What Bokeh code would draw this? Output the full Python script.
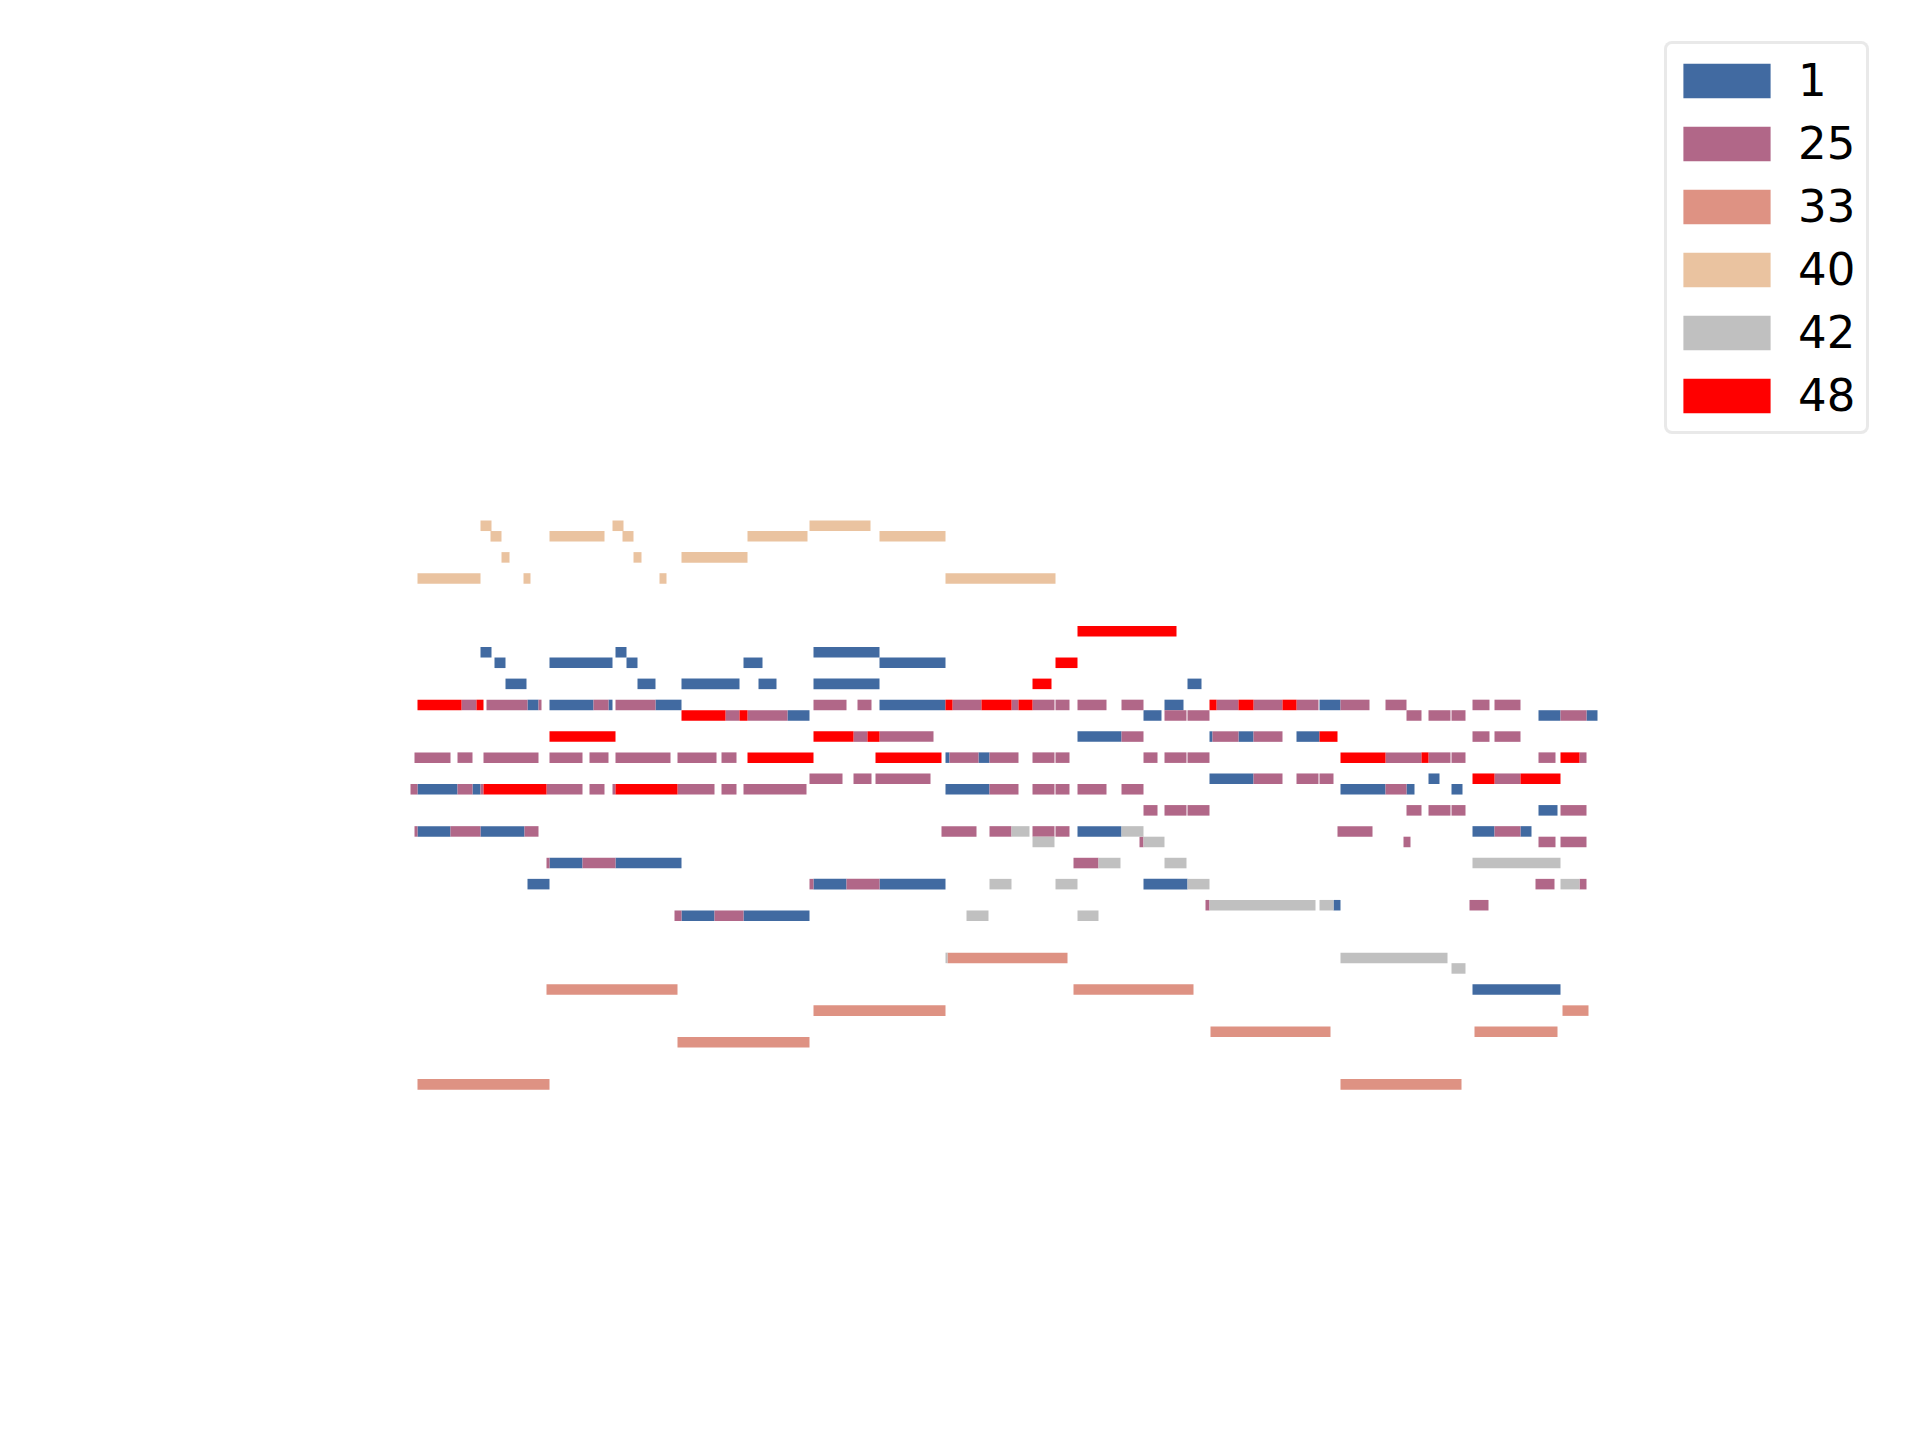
from bokeh.plotting import figure
from bokeh.models import ColumnDataSource, Legend, LegendItem, Range1d
from bokeh.embed import file_html
from bokeh.resources import INLINE

# Instrument programs (legend labels) and their colours
PROGRAMS = ["1", "25", "33", "40", "42", "48"]
COLORS = ["#416aa1", "#b16788", "#de9283", "#eac3a0", "#c0c0c0", "#ff0000"]

# Notes per program: pitch -> list of (start, end) in time units
NOTES_1 = {
    68: [(7.0, 8.1), (20.5, 21.6), (40.3, 46.9)],
    67: [(8.4, 9.5), (13.9, 20.2), (21.6, 22.7), (33.3, 35.2), (46.9, 53.5)],
    65: [(9.5, 11.6), (22.7, 24.5), (27.1, 32.9), (34.8, 36.6), (40.3, 46.9), (77.7, 79.1)],
    63: [(11.7, 12.8), (13.9, 18.3), (19.8, 20.2), (24.5, 27.1), (46.9, 53.5), (75.4, 77.3), (90.9, 93.0)],
    62: [(37.7, 39.9), (73.3, 75.1), (112.8, 115.0), (117.6, 118.7)],
    60: [(66.7, 71.1), (79.9, 80.2), (82.8, 84.3), (88.6, 90.9)],
    58: [(53.5, 53.9), (56.8, 57.9)],
    56: [(79.9, 84.3), (101.8, 102.9)],
    55: [(0.7, 4.7), (6.2, 7.0), (53.5, 57.9), (93.0, 97.5), (99.6, 100.4), (104.1, 105.2)],
    53: [(112.8, 114.7)],
    51: [(0.7, 4.0), (7.0, 11.4), (66.7, 71.1), (106.2, 108.4), (111.0, 112.1)],
    48: [(13.9, 17.2), (20.5, 27.1)],
    46: [(11.7, 13.9), (40.3, 43.6), (46.9, 53.5), (73.3, 77.7)],
    44: [(92.3, 93.0)],
    43: [(27.1, 30.4), (33.3, 39.9)],
    36: [(106.2, 115.0)],
}

NOTES_25 = {
    63: [(5.1, 6.6), (7.6, 11.7), (12.8, 13.1), (18.3, 19.8), (20.5, 24.5), (40.3, 43.6), (44.7, 46.1),
         (54.2, 57.1), (60.1, 60.8), (62.2, 64.4), (64.5, 65.9), (66.7, 69.6), (71.1, 73.3), (80.6, 82.8),
         (84.3, 87.2), (88.6, 90.8), (93.0, 95.9), (97.5, 99.6), (106.2, 107.9), (108.4, 111.0)],
    62: [(31.5, 32.9), (33.7, 37.7), (75.4, 77.6), (77.7, 79.9), (99.6, 101.1), (101.8, 104.0),
         (104.1, 105.5), (115.0, 117.6)],
    60: [(44.3, 45.7), (46.9, 52.3), (71.1, 73.3), (80.2, 82.8), (84.3, 87.2), (106.2, 107.9), (108.4, 111.0)],
    58: [(0.4, 4.0), (4.7, 6.2), (7.3, 12.8), (13.9, 17.2), (17.9, 19.8), (20.5, 26.0), (26.7, 30.6),
         (31.1, 32.6), (53.9, 56.8), (57.9, 60.8), (62.2, 64.4), (64.5, 65.9), (73.3, 74.7), (75.4, 77.6),
         (77.7, 79.9), (97.5, 101.1), (101.8, 104.0), (104.1, 105.5), (112.8, 114.5), (116.9, 117.6)],
    56: [(39.9, 43.2), (44.3, 46.1), (46.5, 52.0), (84.3, 87.2), (88.6, 90.8), (90.9, 92.3), (108.4, 111.0)],
    55: [(0.0, 0.7), (4.7, 6.2), (7.0, 7.3), (13.6, 17.2), (17.9, 19.4), (20.2, 20.5), (26.7, 30.4),
         (31.1, 32.6), (33.3, 39.6), (57.9, 60.8), (62.2, 64.4), (64.5, 65.9), (66.7, 69.6), (71.1, 73.3),
         (97.5, 99.6)],
    53: [(73.3, 74.7), (75.4, 77.6), (77.7, 79.9), (99.6, 101.1), (101.8, 104.0), (104.1, 105.5), (115.0, 117.6)],
    51: [(0.4, 0.7), (4.0, 7.0), (11.4, 12.8), (53.1, 56.6), (57.9, 60.1), (62.2, 64.4), (64.5, 65.9),
         (92.7, 96.2), (108.4, 111.0)],
    50: [(72.9, 73.3), (99.3, 100.0), (112.8, 114.5), (115.0, 117.6)],
    48: [(13.6, 13.9), (17.2, 20.5), (66.3, 68.8)],
    46: [(39.9, 40.3), (43.6, 46.9), (112.5, 114.4), (116.9, 117.6)],
    44: [(79.5, 79.9), (105.9, 107.8)],
    43: [(26.4, 27.1), (30.4, 33.3)],
}

NOTES_33 = {
    39: [(53.7, 65.7)],
    36: [(13.6, 26.7), (66.3, 78.3)],
    34: [(40.3, 53.5), (115.2, 117.8)],
    32: [(80.0, 92.0), (106.4, 114.7)],
    31: [(26.7, 39.9)],
    27: [(0.7, 13.9), (93.0, 105.1)],
}

NOTES_40 = {
    80: [(7.0, 8.1), (20.2, 21.3), (39.9, 46.0)],
    79: [(8.0, 9.1), (13.9, 19.4), (21.2, 22.3), (33.7, 39.7), (46.9, 53.5)],
    77: [(9.1, 9.9), (22.3, 23.1), (27.1, 33.7)],
    75: [(0.7, 7.0), (11.3, 12.0), (24.9, 25.6), (53.5, 64.5)],
}

NOTES_42 = {
    51: [(60.1, 61.9), (71.1, 73.3)],
    50: [(62.2, 64.4), (73.3, 75.4)],
    48: [(68.8, 71.0), (75.4, 77.6), (106.2, 115.0)],
    46: [(57.9, 60.1), (64.5, 66.7), (77.7, 79.9), (115.0, 116.9)],
    44: [(79.9, 90.5), (90.9, 92.3)],
    43: [(55.6, 57.8), (66.7, 68.8)],
    39: [(53.5, 53.7), (93.0, 103.7)],
    38: [(104.1, 105.5)],
}

NOTES_48 = {
    70: [(66.7, 76.6)],
    67: [(64.5, 66.7)],
    65: [(62.2, 64.1)],
    63: [(0.7, 5.1), (6.6, 7.3), (53.5, 54.2), (57.1, 60.1), (60.8, 62.2), (79.9, 80.6), (82.8, 84.3), (87.2, 88.6)],
    62: [(27.1, 31.5), (32.9, 33.7)],
    60: [(13.9, 20.5), (40.3, 44.3), (45.7, 46.9), (90.9, 92.7)],
    58: [(33.7, 40.3), (46.5, 53.1), (93.0, 97.5), (101.1, 101.8), (115.0, 116.9)],
    56: [(106.2, 108.4), (111.0, 115.0)],
    55: [(7.3, 13.6), (20.5, 26.7)],
}

TRACKS = [NOTES_1, NOTES_25, NOTES_33, NOTES_40, NOTES_42, NOTES_48]


def flatten(notes):
    ys, lefts, rights = [], [], []
    for pitch, segs in notes.items():
        for s, e in segs:
            ys.append(pitch)
            lefts.append(s)
            rights.append(e)
    return dict(y=ys, left=lefts, right=rights)


W, H = 1920, 1440
ROW_PX = 10.54      # pixels per semitone
T_PX = 10.0         # pixels per time unit
X0_PX = 410         # pixel position of time 0
TOP_PX = 520        # pixel of top edge of the highest row
TOP_PITCH = 80

p = figure(width=W, height=H, output_backend="svg", toolbar_location=None,
           x_range=Range1d(-X0_PX / T_PX, (W - X0_PX) / T_PX),
           y_range=Range1d(TOP_PITCH + 0.5 - (H - TOP_PX) / ROW_PX, TOP_PITCH + 0.5 + TOP_PX / ROW_PX),
           x_axis_location=None, y_axis_location=None, min_border=0,
           outline_line_color=None, background_fill_color="white", border_fill_color="white")
p.grid.visible = False

items = []
for label, color, notes in zip(PROGRAMS, COLORS, TRACKS):
    src = ColumnDataSource(flatten(notes))
    r = p.hbar(y="y", left="left", right="right", height=1.0, source=src,
               fill_color=color, line_color=None)
    items.append(LegendItem(label=label, renderers=[r]))

# legend area glyphs are drawn inset by 10% on each side
legend = Legend(items=items, location=(1664, 1006), margin=0, padding=5, spacing=1,
                glyph_width=109, glyph_height=43, label_standoff=17,
                label_height=62, label_width=63,
                label_text_font="DejaVu Sans", label_text_font_size="45px", label_text_color="black",
                border_line_color="#d4d4d4", border_line_width=3, background_fill_color="white",
                background_fill_alpha=1.0)
if "border_radius" in Legend.properties():
    legend.border_radius = 8
p.add_layout(legend)

open("out.html", "w").write(file_html(p, INLINE))
